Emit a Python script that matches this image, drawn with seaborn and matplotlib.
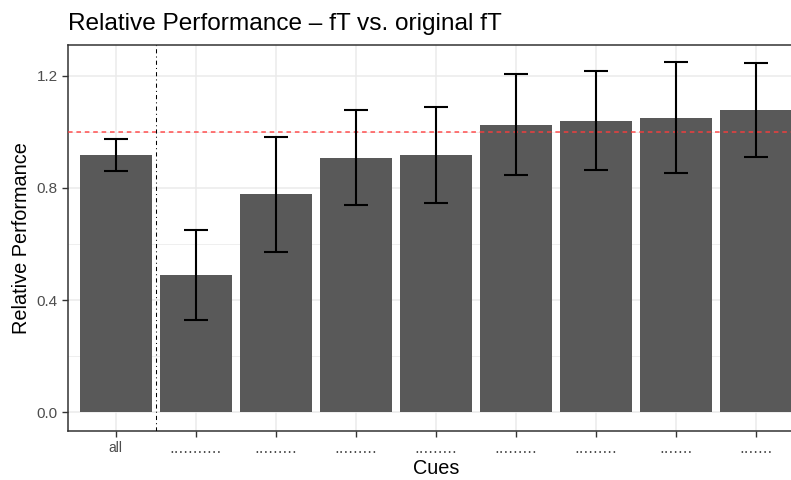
import numpy as np
import pandas as pd
import matplotlib
matplotlib.use("Agg")
import matplotlib.pyplot as plt
import seaborn as sns
from matplotlib.ticker import MultipleLocator

cues = ["all", "...........", ".........", ".........", ".........",
        ".........", ".........", ".......", "......."]
performance = [0.917, 0.489, 0.778, 0.906, 0.917, 1.024, 1.038, 1.049, 1.077]
err_low = [0.861, 0.330, 0.572, 0.738, 0.746, 0.845, 0.862, 0.853, 0.910]
err_high = [0.975, 0.651, 0.982, 1.077, 1.089, 1.205, 1.215, 1.247, 1.244]
y_ticks = [0.0, 0.4, 0.8, 1.2]
y_tick_labels = ["0.0", "0.4", "0.8", "1.2"]
reference_value = 1.0

df = pd.DataFrame({"Cue": cues, "Perf": performance,
                   "lo": err_low, "hi": err_high})
df["pos"] = np.arange(len(df))

sns.set_theme(style="white")
plt.rcParams["font.family"] = ["Liberation Sans", "DejaVu Sans"]

fig = plt.figure(figsize=(7.91, 4.80), dpi=100)
W, H = 791, 480
left, right, top, bottom = 67.5, 804, 45, 431
ax = fig.add_axes([left / W, 1 - bottom / H, (right - left) / W, (bottom - top) / H])

grid_c = "#ebebeb"
ax.set_axisbelow(True)

sns.barplot(x="pos", y="Perf", data=df, ax=ax, color="#595959",
            width=0.9, saturation=1, native_scale=True, errorbar=None,
            linewidth=0)

ax.errorbar(df["pos"], df["Perf"],
            yerr=[df["Perf"] - df["lo"], df["hi"] - df["Perf"]],
            fmt="none", ecolor="black", elinewidth=1.5, capsize=8.6,
            capthick=1.5, zorder=4)

ax.axhline(reference_value, color="#ff3b3b", linestyle=(0, (3, 2.5)),
           linewidth=1.1, alpha=0.9, zorder=3)
ax.axvline(0.5, color="black", linestyle=(0, (4, 3, 1, 3)),
           linewidth=0.75, zorder=3)

ax.set_xlim(-0.6, len(cues) - 1 + 0.6)
ax.set_ylim(-0.0666, 1.309)
ax.set_xticks(df["pos"])
ax.set_xticklabels(cues)
ax.set_yticks(y_ticks)
ax.set_yticklabels(y_tick_labels)
ax.yaxis.set_minor_locator(MultipleLocator(0.2))

ax.grid(True, which="major", color=grid_c, linewidth=1.1)
ax.grid(True, which="minor", axis="y", color=grid_c, linewidth=0.55)

for s in ax.spines.values():
    s.set_color("#333333")
    s.set_linewidth(1.1)

ax.tick_params(axis="both", which="major", length=4, width=1.0,
               color="#333333", labelcolor="#4d4d4d",
               direction="out", pad=3, bottom=True, left=True)
ax.tick_params(axis="y", which="major", labelsize=11)
ax.tick_params(axis="x", which="major", labelsize=10)
ax.tick_params(axis="y", which="minor", length=0)

for lab in ax.get_xticklabels():
    if lab.get_text() != "all":
        lab.set_fontfamily("DejaVu Sans")
        lab.set_fontsize(10.5)

ax.set_xlabel("Cues", fontsize=14.3, color="black", labelpad=2)
ax.set_ylabel("Relative Performance", fontsize=14.3, color="black", labelpad=4)

fig.text(68 / W, 1 - 30 / H, "Relative Performance \u2013 fT vs. original fT",
         fontsize=17.6, color="black", ha="left", va="baseline")

fig.savefig("out.png", dpi=100)
